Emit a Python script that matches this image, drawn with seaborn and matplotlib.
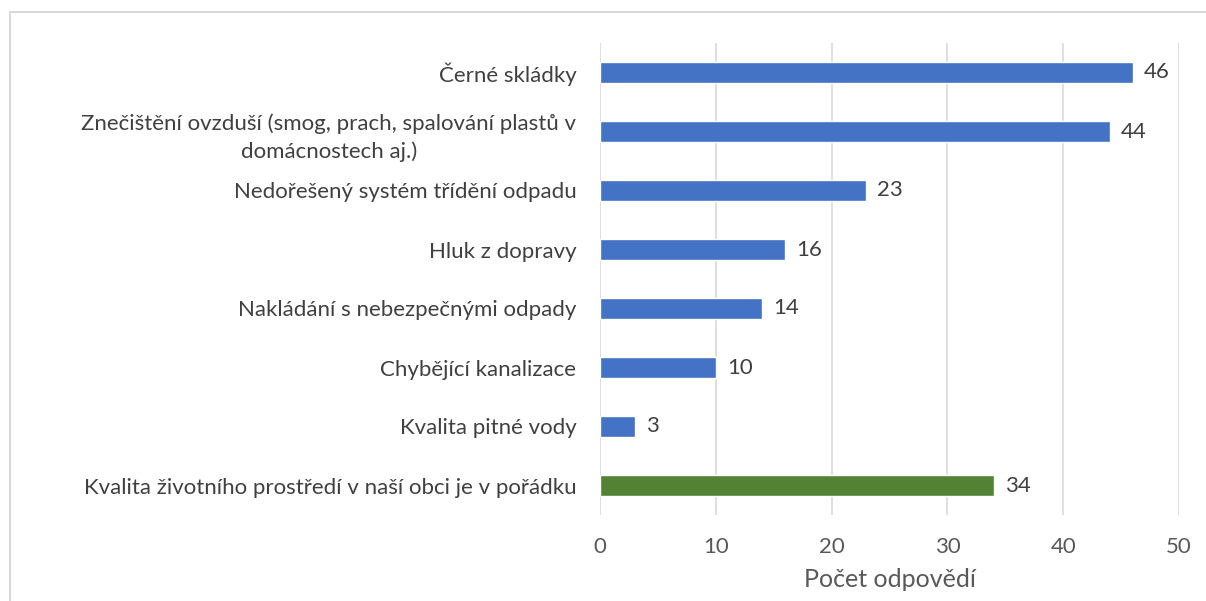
import matplotlib
matplotlib.use("Agg")
import matplotlib.pyplot as plt
import seaborn as sns
import pandas as pd
from matplotlib.patches import Rectangle

categories = [
    "Černé skládky",
    "Znečištění ovzduší (smog, prach, spalování plastů v\ndomácnostech aj.)",
    "Nedořešený systém třídění odpadu",
    "Hluk z dopravy",
    "Nakládání s nebezpečnými odpady",
    "Chybějící kanalizace",
    "Kvalita pitné vody",
    "Kvalita životního prostředí v naší obci je v pořádku",
]
values = [46, 44, 23, 16, 14, 10, 3, 34]
colors = ["#4472C4"] * 7 + ["#548235"]
x_ticks = [0, 10, 20, 30, 40, 50]
x_label = "Počet odpovědí"

sns.set_theme(style="white")
plt.rcParams["font.family"] = ["Lato", "DejaVu Sans"]

df = pd.DataFrame({"cat": categories, "val": values})

fig = plt.figure(figsize=(12.06, 6.01), dpi=100)
ax = fig.add_axes([600 / 1206, 1 - 515 / 601, 579 / 1206, 472 / 601])

sns.barplot(data=df, y="cat", x="val", hue="cat", palette=colors, dodge=False,
            legend=False, width=0.35, ax=ax, orient="h", saturation=1)

ax.set_xlim(0, 50)
ax.set_xticks(x_ticks)
ax.set_ylim(len(categories) - 0.5, -0.5)
ax.grid(axis="x", color="#d9d9d9", linewidth=1.2)
ax.set_axisbelow(True)
for s in ax.spines.values():
    s.set_visible(False)
ax.tick_params(axis="y", length=0, pad=17, labelsize=16, labelcolor="#404040")
ax.tick_params(axis="x", length=0, pad=16, labelsize=16, labelcolor="#595959")
for lbl in ax.get_yticklabels():
    lbl.set_horizontalalignment("right")
    lbl.set_multialignment("center")
    lbl.set_linespacing(1.45)
ax.set_ylabel("")
ax.set_xlabel(x_label, fontsize=18, color="#595959", labelpad=8)

for cont in ax.containers:
    ax.bar_label(cont, padding=8, fontsize=16, color="#404040")

rect = Rectangle((10 / 1206, -0.2), 2, 0.2 + 1 - 12 / 601,
                 transform=fig.transFigure, fill=False,
                 edgecolor="#d9d9d9", linewidth=1.5)
fig.patches.append(rect)

fig.savefig("out.png", dpi=100)
